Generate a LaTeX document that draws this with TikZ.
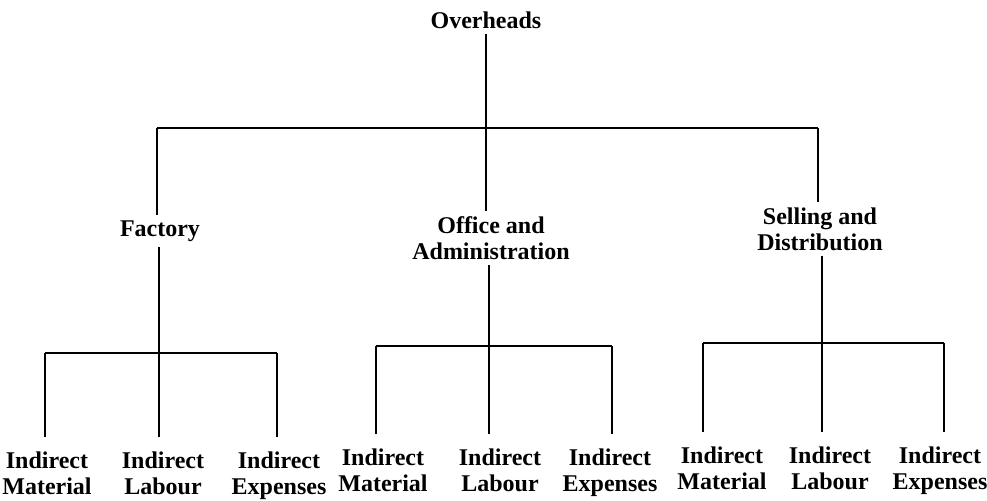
\documentclass[tikz,border=0pt]{standalone}
\usepackage{fontspec}
\setmainfont{Liberation Serif}
\usetikzlibrary{positioning}

\tikzset{
  head/.style={font=\bfseries\fontsize{12}{13}\selectfont, align=center, inner sep=2.5pt},
  leaf/.style={font=\bfseries\fontsize{12}{13}\selectfont, align=center, inner sep=1pt, anchor=north},
  link/.style={line width=1pt},
}

\begin{document}
\begin{tikzpicture}[x=0.5pt,y=-0.5pt]
  \useasboundingbox (0,0) rectangle (987,501);

  % heads
  \node[head] (ovh) at (486,20) {Overheads};
  \node[head] (fac) at (160,231) {Factory};
  \node[head] (off) at (491,238) {Office and\\Administration};
  \node[head] (sel) at (820,229) {Selling and\\Distribution};

  % leaves
  \node[leaf] (facmat) at (47,449) {Indirect\\Material};
  \node[leaf] (faclab) at (163,449) {Indirect\\Labour};
  \node[leaf] (facexp) at (279,449) {Indirect\\Expenses};
  \node[leaf] (offmat) at (383,446) {Indirect\\Material};
  \node[leaf] (offlab) at (500,446) {Indirect\\Labour};
  \node[leaf] (offexp) at (610,446) {Indirect\\Expenses};
  \node[leaf] (selmat) at (722,444) {Indirect\\Material};
  \node[leaf] (sellab) at (830,444) {Indirect\\Labour};
  \node[leaf] (selexp) at (940,444) {Indirect\\Expenses};

  % top bar
  \coordinate (barL) at (157,128);
  \coordinate (barM) at (486,128);
  \coordinate (barR) at (818,128);
  \draw[link] (ovh) -- (barM);
  \draw[link] (barL) -- (barR);
  \draw[link] (barL) -- (barL |- fac.north);
  \draw[link] (barM) -- (barM |- off.north);
  \draw[link] (barR) -- (barR |- sel.north);

  % factory
  \coordinate (facL) at (45,353);
  \coordinate (facM) at (159,353);
  \coordinate (facR) at (277,353);
  \draw[link] (facM |- fac.south) -- (facM);
  \draw[link] (facL) -- (facR);
  \foreach \c/\n in {facL/facmat, facM/faclab, facR/facexp}
    \draw[link, shorten >=6pt] (\c) -- (\c |- \n.north);

  % office
  \coordinate (offL) at (376,346);
  \coordinate (offM) at (489,346);
  \coordinate (offR) at (612,346);
  \draw[link] (offM |- off.south) -- (offM);
  \draw[link] (offL) -- (offR);
  \foreach \c/\n in {offL/offmat, offM/offlab, offR/offexp}
    \draw[link, shorten >=6pt] (\c) -- (\c |- \n.north);

  % selling
  \coordinate (selL) at (703,343);
  \coordinate (selM) at (822,343);
  \coordinate (selR) at (944,343);
  \draw[link] (selM |- sel.south) -- (selM);
  \draw[link] (selL) -- (selR);
  \foreach \c/\n in {selL/selmat, selM/sellab, selR/selexp}
    \draw[link, shorten >=6pt] (\c) -- (\c |- \n.north);
\end{tikzpicture}
\end{document}
